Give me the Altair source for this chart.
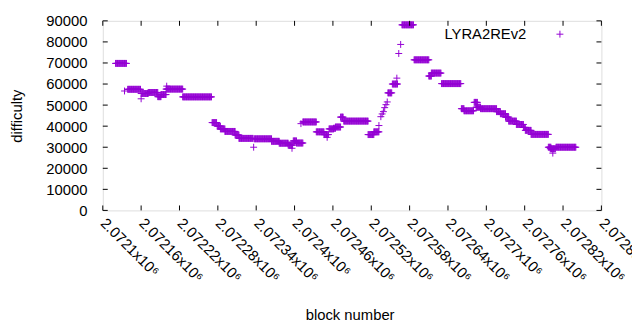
import altair as alt
import pandas as pd

BASE = 2072100
# piecewise-constant runs: (first block offset, last block offset, difficulty)
seg_start = [20, 39, 60, 71, 86, 91, 99, 125, 171, 179, 184, 191, 207, 213, 237, 264, 276, 290, 298, 303,
             313, 334, 346, 354, 361, 364, 372, 377, 415, 424, 446, 453, 468, 487, 510, 514, 530, 561,
             565, 581, 584, 591, 616, 622, 630, 635, 647, 658, 661, 670, 697, 700, 709]
seg_end = [37, 59, 71, 86, 91, 99, 125, 170, 178, 184, 191, 207, 213, 235, 264, 276, 290, 297, 303, 313,
           334, 346, 353, 361, 364, 372, 376, 415, 424, 432, 452, 461, 486, 510, 514, 529, 560, 565,
           580, 586, 591, 616, 622, 630, 635, 647, 658, 661, 670, 697, 701, 708, 740]
seg_value = [69800, 57500, 55500, 56000, 54000, 55000, 57600, 53900, 41700, 40000, 38700, 37500, 35800,
             34200, 34000, 32800, 31900, 31000, 33000, 32000, 42000, 37300, 36000, 38700, 39000, 39600,
             44300, 42400, 36000, 37300, 55800, 60000, 88100, 71500, 63800, 65200, 60200, 48300, 47300,
             51300, 49000, 48300, 46900, 45900, 44300, 42400, 40800, 39400, 38000, 36100, 30000, 29300,
             30000]
# isolated points
single_block = [34, 60, 100, 236, 296, 310, 351, 432, 435, 437, 439, 441, 443, 445, 460, 463, 466, 704]
single_value = [56700, 53000, 59000, 30000, 29500, 41200, 34700, 40300, 44500, 45800, 46900, 48800,
                50200, 51500, 62800, 74500, 78800, 27200]

x_ticks = [BASE + 60 * i for i in range(14)]
y_ticks = [10000 * i for i in range(10)]

rows = []
for s, e, v in zip(seg_start, seg_end, seg_value):
    for b in range(s, e + 1):
        rows.append({"block": BASE + b, "difficulty": v})
for b, v in zip(single_block, single_value):
    rows.append({"block": BASE + b, "difficulty": v})
df = pd.DataFrame(rows)

W, H = 505, 192
FONT = "Liberation Sans"
PURPLE = "#9400D3"
CROSS = "M-1,0L1,0M0,-1L0,1"

xscale = alt.Scale(domain=[BASE, BASE + 780], nice=False, zero=False)
yscale = alt.Scale(domain=[0, 90000], nice=False)

xaxis = alt.Axis(values=x_ticks, labelExpr="format(datum.value/1000000, '.5~f') + 'x10⁶'",
                 labelAngle=45, labelAlign="left", labelBaseline="middle", labelPadding=10,
                 ticks=False, tickSize=0, domain=False, grid=False, labelOverlap=False,
                 labelBound=False, labelFlush=False,
                 labelFont=FONT, labelFontSize=15, labelColor="black",
                 title="block number", titleFont=FONT, titleFontSize=15, titleFontWeight="normal",
                 titleColor="black", titleX=250, titleY=105, titleBaseline="middle", titleAlign="center")
yaxis = alt.Axis(values=y_ticks, format="d", ticks=False, tickSize=0, domain=False, grid=False,
                 labelPadding=16, labelOverlap=False, labelFlush=False, labelBound=False,
                 labelFont=FONT, labelFontSize=15, labelColor="black",
                 title="difficulty", titleFont=FONT, titleFontSize=15, titleFontWeight="normal",
                 titleColor="black", titleX=-87, titleY=96, titleAngle=-90,
                 titleBaseline="middle", titleAlign="center")

points = alt.Chart(df).mark_point(shape=CROSS, filled=False, size=49, strokeWidth=1, color=PURPLE,
                                  opacity=1).encode(
    x=alt.X("block:Q", scale=xscale, axis=xaxis, title="block number"),
    y=alt.Y("difficulty:Q", scale=yscale, axis=yaxis, title="difficulty"),
)

xt = pd.DataFrame({"t": x_ticks})
yt = pd.DataFrame({"t": y_ticks})
tick_style = dict(color="black", strokeWidth=1)
bottom_ticks = alt.Chart(xt).mark_rule(**tick_style).encode(
    x=alt.X("t:Q", scale=xscale, axis=xaxis, title="block number"), y=alt.value(H), y2=alt.value(H - 5))
top_ticks = alt.Chart(xt).mark_rule(**tick_style).encode(
    x=alt.X("t:Q", scale=xscale, axis=xaxis, title="block number"), y=alt.value(0), y2=alt.value(5))
left_ticks = alt.Chart(yt).mark_rule(**tick_style).encode(
    y=alt.Y("t:Q", scale=yscale, axis=yaxis, title="difficulty"), x=alt.value(0), x2=alt.value(5))
right_ticks = alt.Chart(yt).mark_rule(**tick_style).encode(
    y=alt.Y("t:Q", scale=yscale, axis=yaxis, title="difficulty"), x=alt.value(W), x2=alt.value(W - 5))

leg = pd.DataFrame({"name": ["LYRA2REv2"]})
leg_text = alt.Chart(leg).mark_text(align="right", baseline="middle", font=FONT, fontSize=15,
                                    color="black").encode(
    text="name:N", x=alt.value(429), y=alt.value(13))
leg_sym = alt.Chart(leg).mark_point(shape=CROSS, filled=False, size=49, strokeWidth=1, color=PURPLE,
                                    opacity=1).encode(x=alt.value(463), y=alt.value(13.5))

chart = alt.layer(points, bottom_ticks, top_ticks, left_ticks, right_ticks, leg_text, leg_sym).properties(
    width=W, height=H,
    autosize=alt.AutoSizeParams(type="none"),
    padding={"left": 96, "top": 11, "right": 31, "bottom": 111},
).configure_view(stroke="black", strokeWidth=1).configure(background="white")

chart.save("out.html", embed_options={"renderer": "svg", "actions": False})
